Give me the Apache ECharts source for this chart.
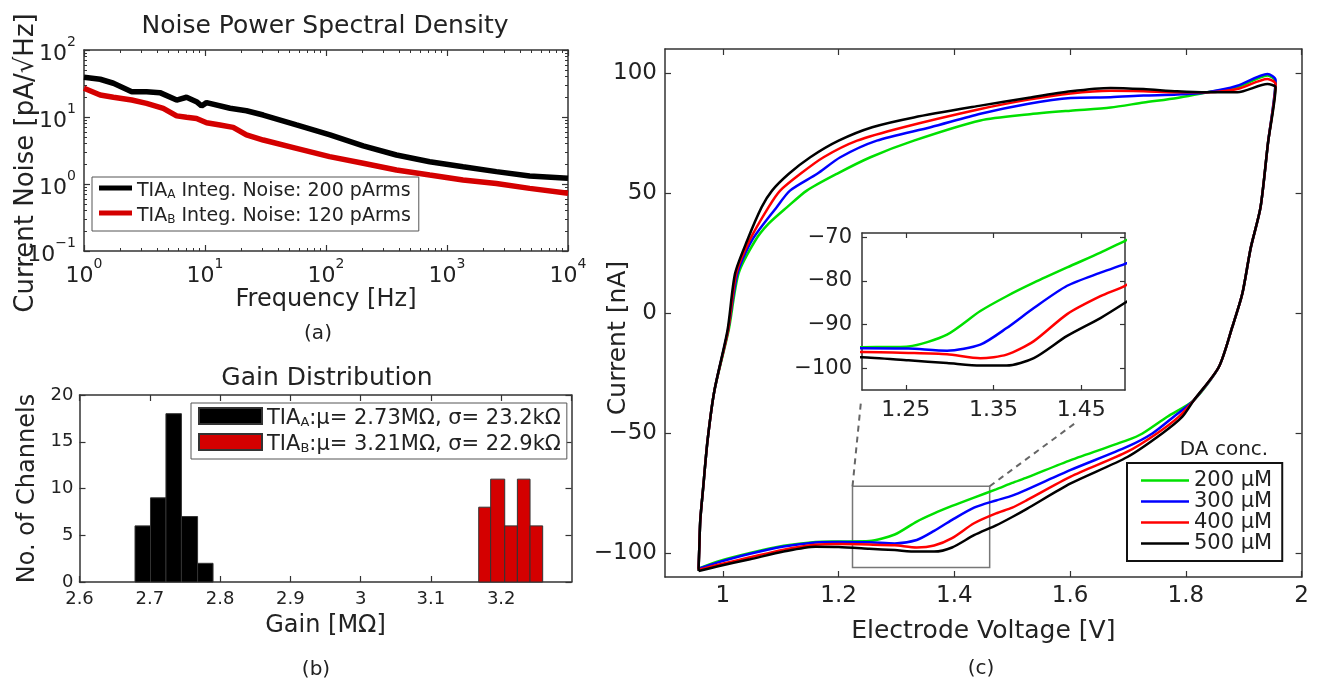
<!DOCTYPE html>
<html><head><meta charset="utf-8">
<script src="https://cdn.jsdelivr.net/npm/echarts@6/dist/echarts.min.js"></script>
<style>html,body{margin:0;padding:0;background:#fff}#chart{width:1326px;height:685px}</style>
</head><body><div id="chart"></div>
<script>
// ---------- Panel (a): noise PSD ----------
const psdFreqA = [1, 1.36, 1.75, 2.48, 3.29, 4.24, 5.83, 7.04, 8.5, 9.37, 10.3, 16.1, 22, 30.3, 57, 108, 203, 382, 720, 1358, 2558, 4822, 10000];
const psdNoiseA = [39.2, 36.6, 31.9, 23.9, 23.9, 23.1, 17.9, 19.7, 16.9, 14.6, 16.4, 13.5, 12.4, 10.7, 7.6, 5.4, 3.7, 2.71, 2.15, 1.81, 1.53, 1.32, 1.22];
const psdFreqB = [1, 1.36, 1.75, 2.48, 3.29, 4.52, 5.83, 7.04, 8.51, 10.3, 13.3, 17.1, 22, 30.3, 57, 107, 203, 382, 720, 1356, 2557, 4819, 10000];
const psdNoiseB = [26.8, 21.3, 19.7, 17.9, 16.0, 13.5, 10.4, 9.9, 9.5, 8.2, 7.6, 7.0, 5.4, 4.53, 3.41, 2.56, 2.04, 1.62, 1.36, 1.15, 1.02, 0.86, 0.73];

// ---------- Panel (b): gain histogram ----------
const gainEdgesA = [2.679, 2.701, 2.723, 2.745, 2.768, 2.790];
const gainCountsA = [6, 9, 18, 7, 2];
const gainEdgesB = [3.168, 3.185, 3.205, 3.223, 3.241, 3.259];
const gainCountsB = [8, 11, 6, 11, 6];

// ---------- Panel (c): cyclic voltammograms [V, nA] ----------
const cv200 = [[0.958,-106.5],[0.99,-103.6],[1.047,-100.0],[1.105,-97.0],[1.16,-95.4],[1.2,-95.2],[1.253,-95.0],[1.297,-92.3],[1.335,-86.9],[1.365,-83.5],[1.396,-80.4],[1.434,-76.9],[1.472,-73.5],[1.5,-70.8],[1.526,-68.5],[1.601,-61.3],[1.699,-53.0],[1.725,-50.2],[1.768,-43.2],[1.814,-36.3],[1.857,-22.5],[1.880,-6],[1.8975,8],[1.912,27],[1.929,44],[1.942,71],[1.955,96.5],
  [1.941,99.0],[1.889,94.0],[1.837,92.0],[1.785,89.6],[1.727,87.7],[1.670,85.6],[1.601,84.3],[1.526,82.7],[1.445,80.2],[1.330,71.8],[1.255,64.9],[1.197,58.0],[1.145,51.0],[1.111,44.1],[1.079,37.2],[1.056,30.2],[1.027,16.4],[1.010,-7.2],[0.9855,-32.2],[0.9736,-53],[0.9656,-73.7],[0.961,-86.2],[0.9595,-96],[0.958,-106.5]];
const cv300 = [[0.958,-106.5],[0.99,-104],[1.047,-100.3],[1.105,-97.3],[1.16,-95.6],[1.2,-95.4],[1.253,-95.5],[1.297,-96.0],[1.335,-94.6],[1.365,-90.8],[1.396,-86.2],[1.434,-81.1],[1.472,-78.1],[1.5,-76.1],[1.526,-73.5],[1.601,-65.4],[1.699,-55.7],[1.742,-50.2],[1.779,-43.2],[1.814,-36.3],[1.857,-22.5],[1.880,-6],[1.8975,8],[1.912,27],[1.929,44],[1.942,71],[1.955,97.1],
  [1.941,99.6],[1.889,94.7],[1.837,92.0],[1.785,91.0],[1.727,90.6],[1.670,89.9],[1.601,89.6],[1.526,87.1],[1.445,83.0],[1.359,77.4],[1.266,71.8],[1.203,64.9],[1.163,58.0],[1.116,51.0],[1.093,44.1],[1.050,30.2],[1.025,16.4],[1.009,-7.2],[0.9855,-32.2],[0.9736,-53],[0.9656,-73.7],[0.961,-86.2],[0.9595,-96],[0.958,-106.5]];
const cv400 = [[0.958,-107],[0.99,-105],[1.047,-101.8],[1.105,-98.6],[1.16,-96.6],[1.2,-96.3],[1.253,-96.5],[1.297,-96.8],[1.335,-97.7],[1.365,-96.9],[1.396,-93.8],[1.434,-87.6],[1.472,-83.5],[1.5,-81.1],[1.526,-77.9],[1.601,-68.2],[1.699,-57.8],[1.750,-50.2],[1.788,-43.2],[1.814,-36.3],[1.857,-22.5],[1.880,-6],[1.8975,8],[1.912,27],[1.929,44],[1.942,71],[1.955,95.4],
  [1.941,97.5],[1.889,93.3],[1.837,92.0],[1.785,92.0],[1.727,92.4],[1.670,92.6],[1.601,91.5],[1.526,88.8],[1.445,85.0],[1.312,77.4],[1.232,71.8],[1.174,64.9],[1.134,58.0],[1.099,51.0],[1.079,44.1],[1.046,30.2],[1.023,16.4],[1.009,-7.2],[0.9855,-32.2],[0.9736,-53],[0.9656,-73.7],[0.961,-86.2],[0.9595,-96],[0.958,-107]];
const cv500 = [[0.958,-107.5],[0.99,-105.6],[1.047,-102.6],[1.105,-99.4],[1.16,-97.4],[1.2,-97.5],[1.253,-98.2],[1.297,-98.8],[1.335,-99.4],[1.365,-99.4],[1.396,-97.7],[1.434,-92.6],[1.472,-88.5],[1.5,-85.0],[1.526,-81.5],[1.601,-71.0],[1.699,-60.0],[1.759,-50.2],[1.794,-43.2],[1.814,-36.3],[1.857,-22.5],[1.880,-6],[1.8975,8],[1.912,27],[1.929,44],[1.942,71],[1.955,94.0],
  [1.941,95.4],[1.889,92.0],[1.837,92.0],[1.785,92.4],[1.727,93.3],[1.670,93.8],[1.601,92.4],[1.526,89.6],[1.445,86.4],[1.330,81.5],[1.258,77.4],[1.2,71.8],[1.151,64.9],[1.114,58.0],[1.085,51.0],[1.067,44.1],[1.042,30.2],[1.021,16.4],[1.008,-7.2],[0.9855,-32.2],[0.9736,-53],[0.9656,-73.7],[0.961,-86.2],[0.9595,-96],[0.958,-107.5]];
const cvNames = ['200 μM', '300 μM', '400 μM', '500 μM'];
const cvXTicks = [1, 1.2, 1.4, 1.6, 1.8, 2];
const cvYTicks = [-100, -50, 0, 50, 100];
const insetXTicks = [1.25, 1.35, 1.45];
const insetYTicks = [-100, -90, -80, -70];
const zoomBox = [[1.224, -72.2], [1.461, -106]];
const zoomLinks = [[[1.224, -72.2], [1.2386, -37]], [[1.461, -72.2], [1.612, -45.3]]];

// ---------- styling ----------
const FONT = 'DejaVu Sans';
const TXT = '#222';
const AXC = '#333';
const minus = v => (v < 0 ? '\u2212' : '') + Math.abs(v);
const sup = v => { const e = Math.round(Math.log10(v)); return '{b|10}{s|' + (e < 0 ? '\u2212' + (-e) : e) + '}'; };
const supRich = { b: { fontSize: 22, fontFamily: FONT, color: TXT, verticalAlign: 'bottom', lineHeight: 30 }, s: { fontSize: 14, fontFamily: FONT, color: TXT, verticalAlign: 'top', lineHeight: 30 } };

function ax(base, extra) {
  const o = Object.assign({
    axisLine: { show: true, onZero: false, lineStyle: { color: AXC, width: 1.5 } },
    axisTick: { show: true, inside: true, length: 6, lineStyle: { color: AXC, width: 1.2 } },
    splitLine: { show: false },
    axisLabel: { show: false },
    nameTextStyle: { fontFamily: FONT, color: TXT, fontSize: 24 }
  }, base);
  if (extra) Object.keys(extra).forEach(k => { o[k] = Object.assign({}, o[k] || {}, extra[k]); });
  return o;
}
const lbl = (size, margin, more) => Object.assign({ show: true, fontFamily: FONT, color: TXT, fontSize: size, margin: margin }, more || {});
const minorLog = { show: true, splitNumber: 9, length: 3, lineStyle: { color: AXC } };

const xAxis = [
  ax({ type: 'log', gridIndex: 0, position: 'bottom', min: 1, max: 10000, logBase: 10, splitNumber: 4, name: 'Frequency [Hz]', nameLocation: 'middle', nameGap: 29 },
     { axisLabel: lbl(22, 6, { formatter: sup, rich: supRich }), minorTick: minorLog }),
  ax({ type: 'log', gridIndex: 0, position: 'top', min: 1, max: 10000, logBase: 10, splitNumber: 4 }, { minorTick: minorLog }),
  ax({ type: 'value', gridIndex: 1, position: 'bottom', min: 2.6, max: 3.3, interval: 0.1, name: 'Gain [MΩ]', nameLocation: 'middle', nameGap: 32 },
     { axisLabel: lbl(18, 8, { showMaxLabel: false }) }),
  ax({ type: 'value', gridIndex: 1, position: 'top', min: 2.6, max: 3.3, interval: 0.1 }),
  ax({ type: 'value', gridIndex: 2, position: 'bottom', min: 0.9, max: 2, name: 'Electrode Voltage [V]', nameLocation: 'middle', nameGap: 42 },
     { axisLabel: lbl(23, 8, { customValues: cvXTicks }), axisTick: { customValues: cvXTicks }, nameTextStyle: { fontSize: 25 } }),
  ax({ type: 'value', gridIndex: 2, position: 'top', min: 0.9, max: 2 }, { axisTick: { customValues: cvXTicks } }),
  ax({ type: 'value', gridIndex: 3, position: 'bottom', min: 1.2, max: 1.5 },
     { axisLabel: lbl(22, 9, { customValues: insetXTicks }), axisTick: { customValues: insetXTicks, length: 5 } }),
  ax({ type: 'value', gridIndex: 3, position: 'top', min: 1.2, max: 1.5 }, { axisTick: { customValues: insetXTicks, length: 5 } })
];
const yAxis = [
  ax({ type: 'log', gridIndex: 0, position: 'left', min: 0.1, max: 100, logBase: 10, splitNumber: 3 },
     { axisLabel: lbl(22, 8, { formatter: sup, rich: supRich }), minorTick: minorLog }),
  ax({ type: 'log', gridIndex: 0, position: 'right', min: 0.1, max: 100, logBase: 10, splitNumber: 3 }, { minorTick: minorLog }),
  ax({ type: 'value', gridIndex: 1, position: 'left', min: 0, max: 20, interval: 5, name: 'No. of Channels', nameLocation: 'middle', nameGap: 40 },
     { axisLabel: lbl(18, 6), nameTextStyle: { fontSize: 24 } }),
  ax({ type: 'value', gridIndex: 1, position: 'right', min: 0, max: 20, interval: 5 }),
  ax({ type: 'value', gridIndex: 2, position: 'left', min: -110, max: 110 },
     { axisLabel: lbl(23, 8, { customValues: cvYTicks, formatter: minus }), axisTick: { customValues: cvYTicks } }),
  ax({ type: 'value', gridIndex: 2, position: 'right', min: -110, max: 110 }, { axisTick: { customValues: cvYTicks } }),
  ax({ type: 'value', gridIndex: 3, position: 'left', min: -105, max: -69 },
     { axisLabel: lbl(21, 10, { customValues: insetYTicks, formatter: minus }), axisTick: { customValues: insetYTicks, length: 5 } }),
  ax({ type: 'value', gridIndex: 3, position: 'right', min: -105, max: -69 }, { axisTick: { customValues: insetYTicks, length: 5 } })
];

function histItem(params, api) {
  const p0 = api.coord([api.value(0), 0]);
  const p1 = api.coord([api.value(1), api.value(2)]);
  return { type: 'rect', shape: { x: p0[0], y: p1[1], width: p1[0] - p0[0], height: p0[1] - p1[1] }, style: api.style() };
}
const histData = (edges, counts) => counts.map((c, i) => [edges[i], edges[i + 1], c]);

const cvColors = ['#00e000', '#0000ff', '#ff0000', '#000000'];
const cvData = [cv200, cv300, cv400, cv500];
const series = [
  { name: 'psdA', type: 'line', xAxisIndex: 0, yAxisIndex: 0, symbol: 'none', smooth: false, data: psdFreqA.map((f, i) => [f, psdNoiseA[i]]), lineStyle: { color: '#000', width: 5.5 }, itemStyle: { color: '#000' } },
  { name: 'psdB', type: 'line', xAxisIndex: 0, yAxisIndex: 0, symbol: 'none', smooth: false, data: psdFreqB.map((f, i) => [f, psdNoiseB[i]]), lineStyle: { color: '#d40000', width: 5.5 }, itemStyle: { color: '#d40000' } },
  { name: 'gainA', type: 'custom', xAxisIndex: 2, yAxisIndex: 2, renderItem: histItem, encode: { x: [0, 1], y: 2 }, data: histData(gainEdgesA, gainCountsA), itemStyle: { color: '#000', borderColor: '#333', borderWidth: 1 } },
  { name: 'gainB', type: 'custom', xAxisIndex: 2, yAxisIndex: 2, renderItem: histItem, encode: { x: [0, 1], y: 2 }, data: histData(gainEdgesB, gainCountsB), itemStyle: { color: '#d40000', borderColor: '#333', borderWidth: 1 } }
];
cvData.forEach((d, i) => {
  const s = { name: cvNames[i], type: 'line', xAxisIndex: 4, yAxisIndex: 4, symbol: 'none', smooth: 0.25, data: d, lineStyle: { color: cvColors[i], width: 2.5 }, itemStyle: { color: cvColors[i] } };
  if (i === 3) {
    s.markArea = { silent: true, itemStyle: { color: 'rgba(0,0,0,0)', borderColor: '#777', borderWidth: 1.5 }, data: [[{ coord: zoomBox[0] }, { coord: zoomBox[1] }]] };
    s.markLine = { silent: true, symbol: 'none', label: { show: false }, lineStyle: { color: '#666', width: 2, type: [6, 5] }, data: zoomLinks.map(l => [{ coord: l[0] }, { coord: l[1] }]) };
  }
  series.push(s);
});
cvData.forEach((d, i) => {
  series.push({ name: cvNames[i], type: 'line', xAxisIndex: 6, yAxisIndex: 6, symbol: 'none', smooth: 0.25, clip: true, data: d, lineStyle: { color: cvColors[i], width: 2.5 }, itemStyle: { color: cvColors[i] }, z: 5 });
});

const legendText = {
  psdA: '{n|TIA}{sub|A}{n| Integ. Noise: 200 pArms}',
  psdB: '{n|TIA}{sub|B}{n| Integ. Noise: 120 pArms}',
  gainA: '{n|TIA}{sub|A}{n|:μ= 2.73MΩ, σ= 23.2kΩ}',
  gainB: '{n|TIA}{sub|B}{n|:μ= 3.21MΩ, σ= 22.9kΩ}'
};
const subRich = size => ({ n: { fontSize: size, fontFamily: FONT, color: TXT, lineHeight: 26, verticalAlign: 'bottom' }, sub: { fontSize: Math.round(size * 0.62), fontFamily: FONT, color: TXT, lineHeight: 26, verticalAlign: 'bottom' } });
const rotText = (txt, x, y, size) => ({ type: 'text', x: x, y: y, rotation: Math.PI / 2, style: { text: txt, fontFamily: FONT, fontSize: size, fill: TXT, align: 'center', verticalAlign: 'middle' } });
const plainText = (txt, x, y, size) => ({ type: 'text', x: x, y: y, style: { text: txt, fontFamily: FONT, fontSize: size, fill: TXT, align: 'center', verticalAlign: 'middle' } });

const option = {
  animation: false,
  backgroundColor: '#fff',
  title: [
    { text: 'Noise Power Spectral Density', left: 320, top: 9, textAlign: 'center', textStyle: { fontFamily: FONT, fontSize: 25, fontWeight: 'normal', color: TXT } },
    { text: 'Gain Distribution', left: 322, top: 361, textAlign: 'center', textStyle: { fontFamily: FONT, fontSize: 25, fontWeight: 'normal', color: TXT } }
  ],
  grid: [
    { left: 84, top: 50, width: 484, height: 201 },
    { left: 79.5, top: 395, width: 492, height: 187 },
    { left: 665, top: 49, width: 636.6, height: 528 },
    { left: 862, top: 233, width: 263, height: 157, show: true, backgroundColor: '#fff', borderWidth: 0 }
  ],
  xAxis: xAxis,
  yAxis: yAxis,
  legend: [
    { orient: 'vertical', left: 92, top: 177, data: [{ name: 'psdA', icon: 'rect' }, { name: 'psdB', icon: 'rect' }], itemWidth: 33, itemHeight: 5, itemGap: 6, padding: [5, 8, 5, 7], borderColor: '#555', borderWidth: 1, backgroundColor: '#fff',
      formatter: n => legendText[n], textStyle: { rich: subRich(19) }, selectedMode: false },
    { orient: 'vertical', left: 191, top: 403, data: [{ name: 'gainA', icon: 'rect' }, { name: 'gainB', icon: 'rect' }], itemWidth: 63, itemHeight: 16, itemGap: 4, padding: [4, 6, 4, 7], borderColor: '#555', borderWidth: 1, backgroundColor: '#fff',
      formatter: n => legendText[n], textStyle: { rich: subRich(21) }, selectedMode: false },
    { orient: 'vertical', left: 1127, top: 463, data: cvNames.map(n => ({ name: n, icon: 'rect' })), itemWidth: 48, itemHeight: 2.5, itemGap: 0, padding: [7, 10, 7, 14], borderColor: '#111', borderWidth: 2, backgroundColor: '#fff',
      textStyle: { fontFamily: FONT, fontSize: 21, color: TXT, lineHeight: 20 }, selectedMode: false }
  ],
  graphic: [
    rotText('Current Noise [pA/√Hz]', 26, 163, 26),
    rotText('Current [nA]', 618, 338, 25),
    plainText('DA conc.', 1224, 450, 20),
    plainText('(a)', 318, 334, 20),
    plainText('(b)', 316, 670, 20),
    plainText('(c)', 981, 669, 20)
  ],
  series: series
};
const chart = echarts.init(document.getElementById('chart'), null, { renderer: 'canvas' });
chart.setOption(option);
</script></body></html>
